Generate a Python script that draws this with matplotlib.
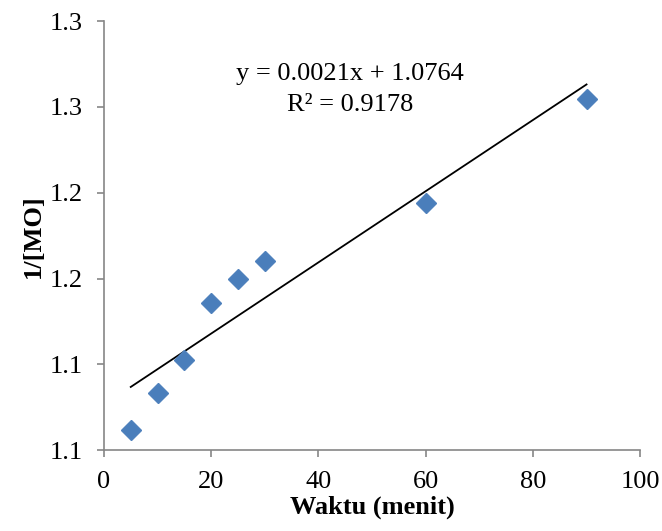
import numpy as np
import matplotlib
matplotlib.use('Agg')
import matplotlib.pyplot as plt

# data
waktu = [5, 10, 15, 20, 25, 30, 60, 90]
inv_mo = [1.0616, 1.0831, 1.1023, 1.1360, 1.1500, 1.1605, 1.1942, 1.2547]
slope = 0.002075   # tampil sebagai 0.0021
intercept = 1.0764
r2 = 0.9178
y_ticks = [1.05, 1.10, 1.15, 1.20, 1.25, 1.30]
y_labels = ['1.1', '1.1', '1.2', '1.2', '1.3', '1.3']
x_ticks = [0, 20, 40, 60, 80, 100]

plt.rcParams['font.family'] = ['Liberation Serif', 'DejaVu Serif']

fig = plt.figure(figsize=(6.62, 5.31), dpi=100)
ax = fig.add_axes([0.157, 0.1525, 0.810, 0.8075])

ax.plot(waktu, inv_mo, linestyle='none', marker='D', markersize=10,
        color='#4a7ebb', markeredgecolor='#4f81bd', zorder=3)

# garis trend
xt = np.array([min(waktu), max(waktu)])
ax.plot(xt, slope * xt + intercept, color='black', linewidth=1.3)

ax.text(45.9, 1.2692, 'y = %.4fx + %.4f' % (slope, intercept), ha='center', va='center', fontsize=19)
ax.text(45.9, 1.2512, 'R² = %.4f' % r2, ha='center', va='center', fontsize=19)

ax.set_xlim(0, 100)
ax.set_ylim(1.05, 1.30)
ax.set_xticks(x_ticks)
ax.set_yticks(y_ticks)
ax.set_yticklabels(y_labels)

for s in ['top', 'right']:
    ax.spines[s].set_visible(False)
for s in ['left', 'bottom']:
    ax.spines[s].set_color('#868686')
    ax.spines[s].set_linewidth(1.2)
ax.tick_params(direction='out', length=5, width=1.2, color='#868686',
               labelsize=19, labelcolor='black', pad=10)

ax.set_xlabel('Waktu (menit)', fontsize=19, fontweight='bold', labelpad=2)
ax.set_ylabel('1/[MO]', fontsize=19, fontweight='bold', labelpad=4)

plt.savefig('out.png', dpi=100)
